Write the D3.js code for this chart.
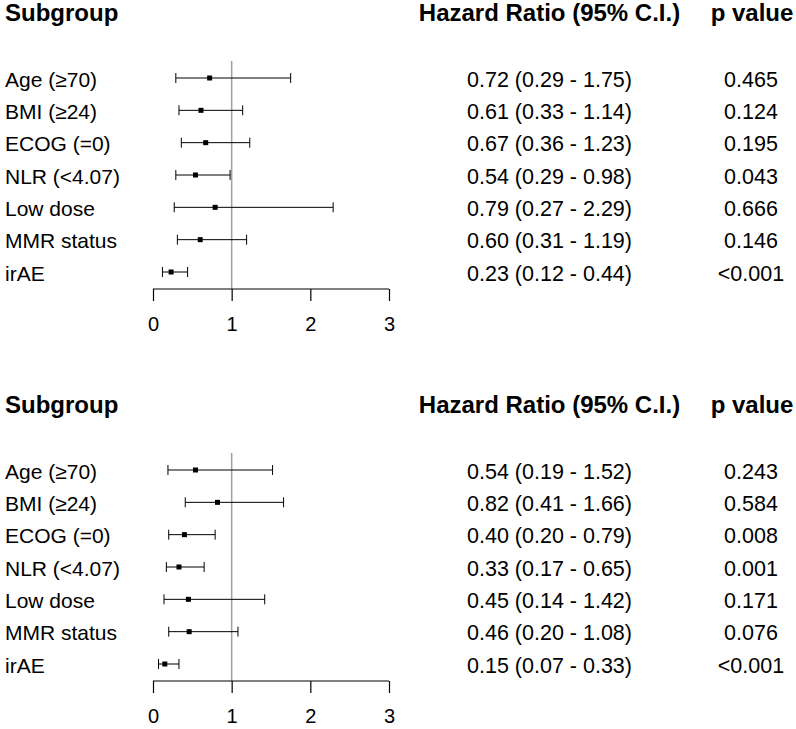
<!DOCTYPE html>
<html>
<head>
<meta charset="utf-8">
<script src="https://cdn.jsdelivr.net/npm/d3@7"></script>
<style>
  body { margin: 0; background: #fff; }
  svg { display: block; font-family: "Liberation Sans", Arial, sans-serif; }
</style>
</head>
<body>
<svg id="chart" width="796" height="729"></svg>
<script>
'use strict'

const subgroups = ['Age (\u226570)', 'BMI (\u226524)', 'ECOG (=0)', 'NLR (<4.07)', 'Low dose', 'MMR status', 'irAE']
const tickValues = [0, 1, 2, 3]

// panel 1
const hr1 = [0.72, 0.61, 0.67, 0.54, 0.79, 0.60, 0.23]
const lo1 = [0.29, 0.33, 0.36, 0.29, 0.27, 0.31, 0.12]
const hi1 = [1.75, 1.14, 1.23, 0.98, 2.29, 1.19, 0.44]
const p1 = ['0.465', '0.124', '0.195', '0.043', '0.666', '0.146', '<0.001']

// panel 2
const hr2 = [0.54, 0.82, 0.40, 0.33, 0.45, 0.46, 0.15]
const lo2 = [0.19, 0.41, 0.20, 0.17, 0.14, 0.20, 0.07]
const hi2 = [1.52, 1.66, 0.79, 0.65, 1.42, 1.08, 0.33]
const p2 = ['0.243', '0.584', '0.008', '0.001', '0.171', '0.076', '<0.001']

const svg = d3.select('#chart')

const x = d3.scaleLinear().domain([0, 3]).range([153, 389])
const fmt = d3.format('.2f')

function drawPanel(top, hr, lo, hi, pv) {
    const g = svg.append('g').attr('transform', `translate(0,${top})`)

    const y = d3.scalePoint().domain(subgroups).range([78, 272])

    // headers
    g.append('text').attr('x', 5).attr('y', 21)
        .attr('font-size', 24).attr('font-weight', 'bold').text('Subgroup')
    g.append('text').attr('x', 549.5).attr('y', 21).attr('text-anchor', 'middle')
        .attr('font-size', 24).attr('font-weight', 'bold').text('Hazard Ratio (95% C.I.)')
    g.append('text').attr('x', 752).attr('y', 21).attr('text-anchor', 'middle')
        .attr('font-size', 24).attr('font-weight', 'bold').text('p value')

    // reference line at 1
    g.append('line')
        .attr('x1', x(1)).attr('x2', x(1))
        .attr('y1', 61).attr('y2', 289)
        .attr('stroke', '#a0a0a0').attr('stroke-width', 1.5)

    const rows = g.selectAll('g.row')
        .data(subgroups.map((s, i) => ({ s, hr: hr[i], lo: lo[i], hi: hi[i], p: pv[i] })))
        .enter().append('g').attr('class', 'row')

    rows.append('text').attr('x', 5).attr('y', d => y(d.s) + 8.7)
        .attr('font-size', 21).text(d => d.s)

    rows.append('line')
        .attr('x1', d => x(d.lo)).attr('x2', d => x(d.hi))
        .attr('y1', d => y(d.s)).attr('y2', d => y(d.s))
        .attr('stroke', '#000').attr('stroke-width', 1)
    rows.append('line')
        .attr('x1', d => x(d.lo)).attr('x2', d => x(d.lo))
        .attr('y1', d => y(d.s) - 5).attr('y2', d => y(d.s) + 5)
        .attr('stroke', '#000').attr('stroke-width', 1)
    rows.append('line')
        .attr('x1', d => x(d.hi)).attr('x2', d => x(d.hi))
        .attr('y1', d => y(d.s) - 5).attr('y2', d => y(d.s) + 5)
        .attr('stroke', '#000').attr('stroke-width', 1)
    rows.append('rect')
        .attr('x', d => x(d.hr) - 2.5).attr('y', d => y(d.s) - 2.5)
        .attr('width', 5).attr('height', 5).attr('fill', '#000')

    rows.append('text').attr('x', 549.5).attr('y', d => y(d.s) + 8.7)
        .attr('text-anchor', 'middle').attr('font-size', 21.5)
        .text(d => `${fmt(d.hr)} (${fmt(d.lo)} - ${fmt(d.hi)})`)
    rows.append('text').attr('x', 751).attr('y', d => y(d.s) + 8.7)
        .attr('text-anchor', 'middle').attr('font-size', 21.5)
        .text(d => d.p)

    // axis
    const axis = d3.axisBottom(x).tickValues(tickValues).tickSize(12).tickPadding(16)
        .tickFormat(d3.format('d'))
    const ax = g.append('g').attr('transform', 'translate(0,289)').call(axis)
    ax.select('.domain').attr('stroke', '#000').attr('stroke-width', 1.2)
        .attr('d', `M${x(0)},0H${x(3)}`)
    ax.selectAll('.tick line').attr('stroke', '#000').attr('stroke-width', 1.2)
    ax.selectAll('.tick text').attr('font-size', 20).attr('fill', '#000')
        .attr('font-family', '"Liberation Sans", Arial, sans-serif')
}

drawPanel(0, hr1, lo1, hi1, p1)
drawPanel(392, hr2, lo2, hi2, p2)
</script>
</body>
</html>
